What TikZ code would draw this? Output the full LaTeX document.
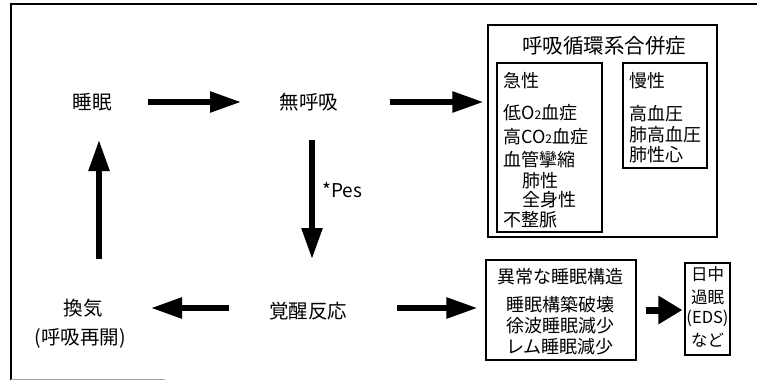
\documentclass[tikz,border=0pt]{standalone}
\usepackage{fontspec}
\setmainfont{Noto Sans CJK JP}
\usetikzlibrary{arrows.meta}
\newcommand{\subtwo}{{\fontsize{12pt}{12pt}\selectfont 2}}
\tikzset{
  arr/.style={line width=5.5pt,-{Triangle[length=31pt,width=20pt]}},
  fatarr/.style={line width=7pt,-{Triangle[length=24pt,width=27pt]}},
  lbl/.style={inner sep=0pt,font=\fontsize{19.5pt}{22pt}\selectfont},
  boxtxt/.style={inner sep=0pt,anchor=west,font=\fontsize{18pt}{20pt}\selectfont},
  ctrtxt/.style={inner sep=0pt,font=\fontsize{18pt}{20pt}\selectfont},
  edstxt/.style={inner sep=0pt,font=\fontsize{16.5pt}{18pt}\selectfont},
  frame/.style={draw,line width=1.2pt,inner sep=0pt},
}
\begin{document}
\begin{tikzpicture}[x=1pt,y=-1pt]
\useasboundingbox (0,0) rectangle (757,380);
% outer frame
\draw[line width=1.4pt] (11,380) -- (11,4) -- (757,4);
\draw[line width=0.8pt,black!35] (11,379) -- (165,379);

% main labels
\node[lbl] (sleep) at (92,102) {睡眠};
\node[lbl] (apnea) at (309,102) {無呼吸};
\node[lbl] (arousal) at (308,311) {覚醒反応};
\node[lbl] (vent) at (83,308) {換気};
\node[lbl] (vent2) at (80,338) {(呼吸再開)};
\node[inner sep=0pt,font=\fontsize{19pt}{21pt}\selectfont,anchor=west] (pes) at (322,190) {*Pes};

% complications box
\node[frame,minimum width=229pt,minimum height=212pt] (comp) at (602.5,131) {};
\node[inner sep=0pt,font=\fontsize{20.5pt}{22pt}\selectfont] (comptitle) at (604,46) {呼吸循環系合併症};
\node[frame,minimum width=105pt,minimum height=169pt] (acute) at (549.5,147.5) {};
\node[frame,minimum width=84pt,minimum height=105pt] (chronic) at (665,115.5) {};

\node[boxtxt] (a1) at (503,81) {急性};
\node[boxtxt] (a2) at (503,113) {低O\subtwo 血症};
\node[boxtxt] (a3) at (503,137) {高CO\subtwo 血症};
\node[boxtxt] (a4) at (503,160) {血管攣縮};
\node[boxtxt] (a5) at (522,181) {肺性};
\node[boxtxt] (a6) at (522,200) {全身性};
\node[boxtxt] (a7) at (503,220) {不整脈};

\node[boxtxt] (c1) at (629,81) {慢性};
\node[boxtxt] (c2) at (629,114) {高血圧};
\node[boxtxt] (c3) at (629,135) {肺高血圧};
\node[boxtxt] (c4) at (629,155) {肺性心};

% abnormal sleep structure box
\node[frame,minimum width=150pt,minimum height=100pt] (abn) at (561,310) {};
\node[ctrtxt] (b1) at (560,277) {異常な睡眠構造};
\node[ctrtxt] (b2) at (560,305) {睡眠構築破壊};
\node[ctrtxt] (b3) at (560,326) {徐波睡眠減少};
\node[ctrtxt] (b4) at (560,347) {レム睡眠減少};

% EDS box
\node[frame,minimum width=45pt,minimum height=92pt] (eds) at (707.5,309) {};
\node[edstxt] (e1) at (707.5,274) {日中};
\node[edstxt] (e2) at (707.5,297) {過眠};
\node[edstxt] (e3) at (707.5,318) {(EDS)};
\node[edstxt] (e4) at (707.5,340) {など};

% arrows
\draw[arr,shorten <=56pt,shorten >=68pt] (sleep.center) -- (apnea.center);
\draw[arr,shorten <=81pt,shorten >=4pt] (apnea.center) -- (apnea.center -| comp.west);
\draw[arr,shorten <=38pt,shorten >=52pt] ([xshift=3pt]apnea.center) -- ([xshift=4pt]arousal.center);
\draw[arr,shorten <=79pt,shorten >=68pt] (vent.center -| arousal.center) -- (vent.center);
\draw[arr,shorten <=49pt,shorten >=38pt] ([xshift=16pt]vent.center) -- ([xshift=7pt]sleep.center);
\draw[arr,shorten <=89pt,shorten >=8pt] (vent.center -| arousal.center) -- (vent.center -| abn.west);
\draw[fatarr,shorten <=9pt,shorten >=2pt] (abn.east) -- (abn.east -| eds.west);
\end{tikzpicture}
\end{document}
